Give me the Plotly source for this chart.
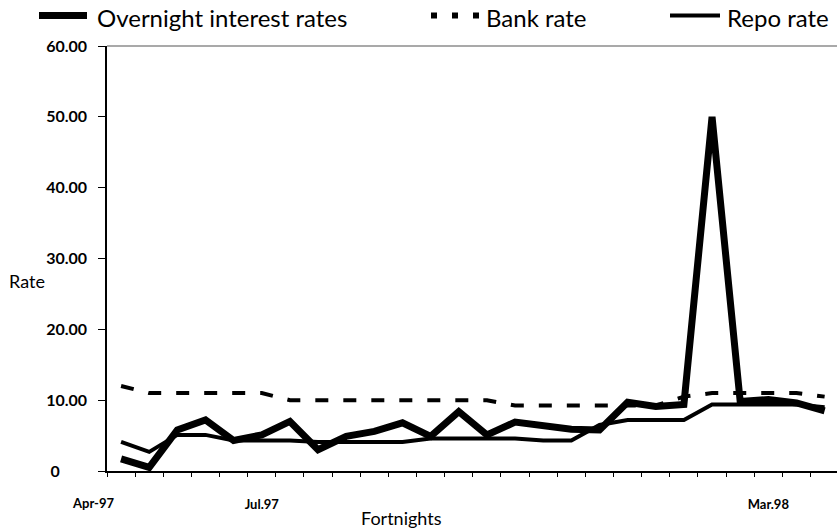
import plotly.graph_objects as go

# ---- data ----
fortnight_index = list(range(26))
overnight_rate = [1.7, 0.5, 5.8, 7.2, 4.3, 5.1, 7.0, 3.0, 4.9, 5.6, 6.8, 4.9, 8.4,
                  5.1, 6.9, 6.3, 5.9, 5.8, 9.7, 9.1, 9.4, 50.0, 9.8, 10.1, 9.6, 8.5]
bank_rate = [12.0, 11.0, 11.0, 11.0, 11.0, 11.0, 10.0, 10.0, 10.0, 10.0, 10.0, 10.0, 10.0,
             10.0, 9.25, 9.25, 9.25, 9.25, 9.25, 9.25, 10.5, 11.0, 11.0, 11.0, 11.0, 10.5]
repo_rate = [4.1, 2.7, 5.1, 5.1, 4.3, 4.3, 4.3, 4.1, 4.1, 4.1, 4.1, 4.6, 4.6,
             4.6, 4.6, 4.3, 4.3, 6.5, 7.2, 7.2, 7.2, 9.4, 9.4, 9.4, 9.4, 9.0]
series_names = ["Overnight interest rates", "Bank rate", "Repo rate"]
x_tick_positions = [5, 23]
x_tick_labels = ["Jul.97", "Mar.98"]
first_label = "Apr-97"
y_tick_values = [0, 10, 20, 30, 40, 50, 60]
y_tick_labels = ["0" + "\u00a0" * 7, "10.00", "20.00", "30.00", "40.00", "50.00", "60.00"]

FONT = "Lato"
W, H = 837, 531
L, B, T = 107, 59.5, 46
PW = W - L
PH = H - T - B


def px_x(p):
    return (p - L) / PW


def px_y(p):
    return (H - B - p) / PH


line_styles = [
    dict(color="black", width=7),
    dict(color="black", width=4, dash="13px,15px"),
    dict(color="black", width=4),
]
series_values = [overnight_rate, bank_rate, repo_rate]

fig = go.Figure()
for name, vals, ls in zip(series_names, series_values, line_styles):
    fig.add_trace(go.Scatter(x=fortnight_index, y=vals, mode="lines", name=name,
                             line=ls, showlegend=False))

# legend drawn as key samples + real text (positions match the reference)
legend_y = px_y(15.5)
legend_samples = [
    dict(x0=39, x1=87, line=dict(color="black", width=7)),
    dict(x0=431, x1=481, line=dict(color="black", width=6, dash="6px,15px")),
    dict(x0=670, x1=720, line=dict(color="black", width=4)),
]
legend_text_x = [95, 484, 725]

shapes = [dict(type="line", xref="paper", yref="paper", x0=0, x1=1, y0=1, y1=1,
               line=dict(color="#555555", width=1.2))]
for s in legend_samples:
    shapes.append(dict(type="line", xref="paper", yref="paper",
                       x0=px_x(s["x0"]), x1=px_x(s["x1"]), y0=legend_y, y1=legend_y,
                       line=s["line"]))

tick_font = dict(family=FONT, size=13, color="black", weight="bold")

annotations = [
    dict(text=first_label, xref="paper", x=px_x(93), yref="paper", y=0,
         yshift=-32, showarrow=False, xanchor="center", yanchor="middle",
         font=tick_font),
    dict(text="Fortnights", xref="paper", x=px_x(401), yref="paper",
         y=0, yshift=-47, showarrow=False, xanchor="center", yanchor="middle",
         font=dict(family=FONT, size=18, color="black")),
    dict(text="Rate", xref="paper", x=px_x(7), yref="y", y=(471.5 - 281) / 7.095,
         showarrow=False, xanchor="left", yanchor="middle",
         font=dict(family=FONT, size=18, color="black")),
]
for name, tx in zip(series_names, legend_text_x):
    annotations.append(dict(text=name, xref="paper", x=px_x(tx), yref="paper",
                            y=px_y(17), showarrow=False, xanchor="left",
                            yanchor="middle",
                            font=dict(family=FONT, size=24, color="black")))

fig.update_layout(
    width=W, height=H,
    margin=dict(l=L, r=0, t=T, b=B),
    paper_bgcolor="white", plot_bgcolor="white",
    showlegend=False,
    xaxis=dict(
        range=[-0.5, 25.44], showgrid=False, zeroline=False,
        showline=True, linecolor="black", linewidth=1.5,
        tickmode="array", tickvals=x_tick_positions, ticktext=x_tick_labels,
        ticks="outside", ticklen=21, tickcolor="rgba(0,0,0,0)",
        tickfont=tick_font,
        minor=dict(tickmode="array",
                   tickvals=[i - 0.5 for i in range(26)],
                   ticks="outside", ticklen=4, tickcolor="black", tickwidth=1,
                   showgrid=False),
    ),
    yaxis=dict(
        range=[0, 60], showgrid=False, zeroline=False,
        showline=True, linecolor="black", linewidth=1.5,
        tickmode="array", tickvals=y_tick_values, ticktext=y_tick_labels,
        ticks="outside", ticklen=7, tickcolor="black", tickwidth=1,
        ticklabelstandoff=8,
        tickfont=dict(family=FONT, size=16, color="black", weight="bold"),
    ),
    shapes=shapes,
    annotations=annotations,
)

fig.write_html("out.html", config={"displayModeBar": False},
               post_script="document.body.style.margin='0';")
